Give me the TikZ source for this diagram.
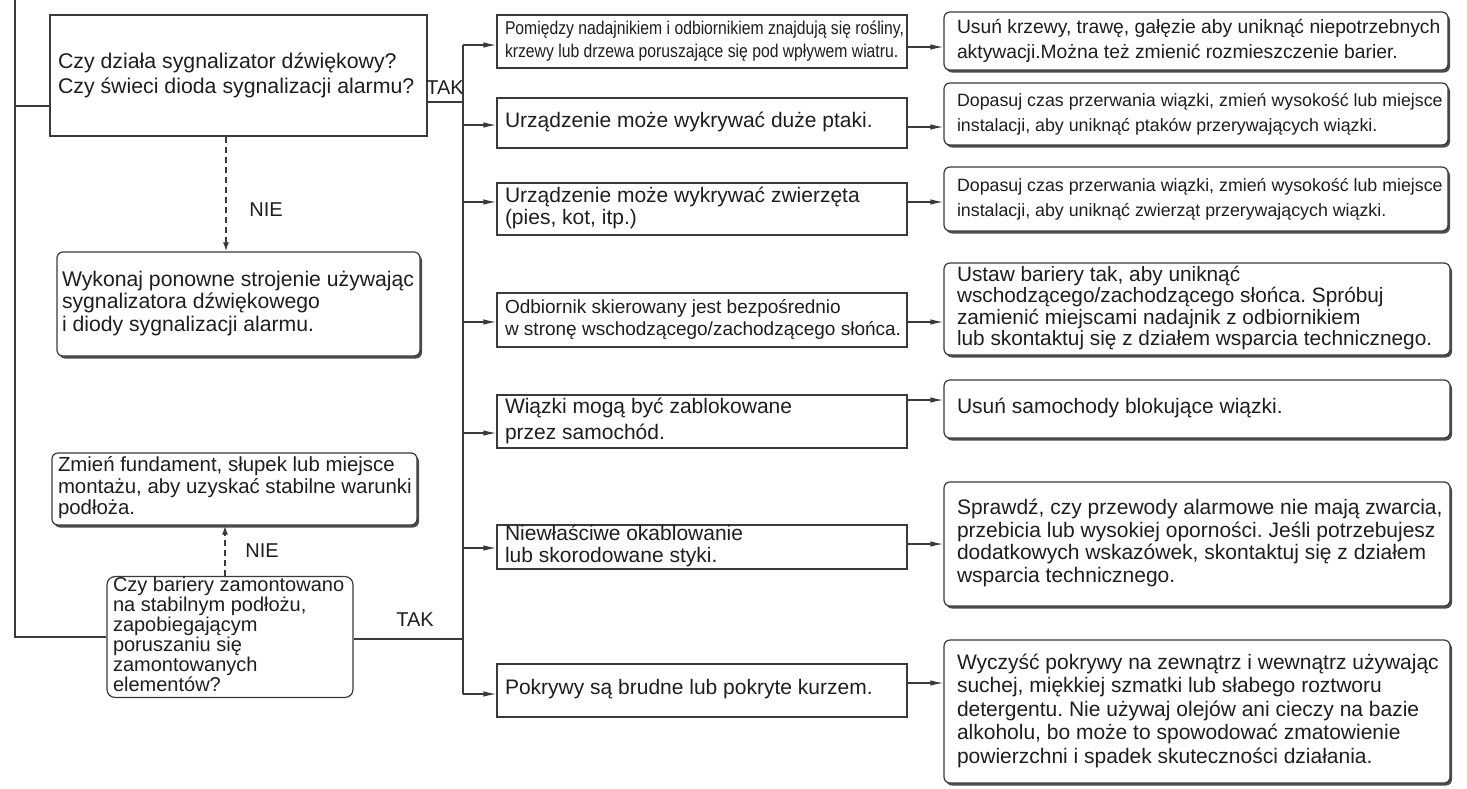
\documentclass[tikz,border=0pt]{standalone}
\usepackage{fontspec}
\setmainfont{Liberation Sans}
\newfontfamily\narrowfont[FakeStretch=0.85]{Liberation Sans}
\usetikzlibrary{arrows.meta,shadows}
\definecolor{lc}{HTML}{3A3A3A}
\definecolor{tc}{HTML}{1E1E1E}
\newcommand{\mytxt}[3]{\makebox[#1][l]{\hspace*{#2}\begin{tabular}{@{}l@{}}#3\end{tabular}}}
\tikzset{
  wire/.style={draw=lc, line width=1.3pt},
  arr/.style={wire, -{Latex[length=13pt,width=5.5pt]}},
  darr/.style={draw=lc, line width=1.6pt, dash pattern=on 6pt off 4pt, -{Latex[length=9pt,width=6pt]}},
  sbox/.style={draw=lc, line width=1.2pt, fill=white, inner xsep=0pt, inner ysep=0pt, text=tc},
  mbox/.style={sbox, drop shadow={shadow xshift=0.6pt, shadow yshift=-1pt, fill=black!60, opacity=1}},
  rbox/.style={sbox, rounded corners=6pt, drop shadow={shadow xshift=2pt, shadow yshift=-2.5pt, fill=black!70, opacity=1}},
  dbox/.style={sbox, rounded corners=8pt},
  fs/.style 2 args={font=\fontsize{#1}{#2}\selectfont},
  lbl/.style={text=tc, font=\fontsize{20}{22}\selectfont, inner sep=0pt},
}
\begin{document}
\frenchspacing
\begin{tikzpicture}[x=1pt,y=-1pt]
\useasboundingbox[fill=white] (0,0) rectangle (1467,788);

% left column
\node[sbox, minimum height=121pt, fs={21.3}{25}] (q1) at (238.5,75.5)
  {\mytxt{377pt}{8pt}{Czy działa sygnalizator dźwiękowy?\\Czy świeci dioda sygnalizacji alarmu?}};
\node[rbox, minimum height=104pt, fs={21.2}{22.5}] (a2) at (238.5,304)
  {\mytxt{363pt}{5pt}{Wykonaj ponowne strojenie używając\\sygnalizatora dźwiękowego\\i diody sygnalizacji alarmu.}};
\node[rbox, minimum height=72pt, fs={20.4}{21.3}] (a3) at (234.5,489)
  {\mytxt{365pt}{6pt}{Zmień fundament, słupek lub miejsce\\montażu, aby uzyskać stabilne warunki\\podłoża.}};
\node[dbox, minimum height=118pt, fs={20}{18.7}] (d2) at (230,637)
  {\mytxt{246pt}{6pt}{Czy bariery zamontowano\\na stabilnym podłożu,\\zapobiegającym\\poruszaniu się\\zamontowanych\\elementów?}};

% middle column
\node[mbox, minimum height=53pt, font=\narrowfont\fontsize{18.5}{23}\selectfont] (m1) at (702,41.5)
  {\mytxt{410pt}{8pt}{Pomiędzy nadajnikiem i odbiornikiem znajdują się rośliny,\\krzewy lub drzewa poruszające się pod wpływem wiatru.}};
\node[mbox, minimum height=50pt, fs={21}{22}] (m2) at (702,123)
  {\mytxt{410pt}{8pt}{Urządzenie może wykrywać duże ptaki.}};
\node[mbox, minimum height=52pt, fs={21}{22}] (m3) at (702,209)
  {\mytxt{410pt}{8pt}{Urządzenie może wykrywać zwierzęta\\(pies, kot, itp.)}};
\node[mbox, minimum height=54pt, fs={19}{22}] (m4) at (702,320)
  {\mytxt{410pt}{8pt}{Odbiornik skierowany jest bezpośrednio\\w stronę wschodzącego/zachodzącego słońca.}};
\node[mbox, minimum height=53pt, fs={21}{26}] (m5) at (702,421.5)
  {\mytxt{410pt}{8pt}{Wiązki mogą być zablokowane\\przez samochód.}};
\node[mbox, minimum height=44pt, fs={21}{22}] (m6) at (702,547)
  {\mytxt{410pt}{8pt}{Niewłaściwe okablowanie\\lub skorodowane styki.}};
\node[mbox, minimum height=53pt, fs={21}{22}] (m7) at (702,690.5)
  {\mytxt{410pt}{8pt}{Pokrywy są brudne lub pokryte kurzem.}};

% right column
\node[rbox, minimum height=58pt, fs={19.3}{25}] (r1) at (1196,41)
  {\mytxt{504pt}{13pt}{Usuń krzewy, trawę, gałęzie aby uniknąć niepotrzebnych\\aktywacji.Można też zmienić rozmieszczenie barier.}};
\node[rbox, minimum height=62pt, fs={17.8}{25}] (r2) at (1196,114)
  {\mytxt{504pt}{13pt}{Dopasuj czas przerwania wiązki, zmień wysokość lub miejsce\\instalacji, aby uniknąć ptaków przerywających wiązki.}};
\node[rbox, minimum height=64pt, fs={17.8}{25}] (r3) at (1196,199)
  {\mytxt{504pt}{13pt}{Dopasuj czas przerwania wiązki, zmień wysokość lub miejsce\\instalacji, aby uniknąć zwierząt przerywających wiązki.}};
\node[rbox, minimum height=92pt, fs={20.8}{20.5}] (r4) at (1197,309)
  {\mytxt{506pt}{13pt}{Ustaw bariery tak, aby uniknąć\\wschodzącego/zachodzącego słońca. Spróbuj\\zamienić miejscami nadajnik z odbiornikiem\\lub skontaktuj się z działem wsparcia technicznego.}};
\node[rbox, minimum height=58pt, fs={21}{22}] (r5) at (1197,409)
  {\mytxt{506pt}{13pt}{Usuń samochody blokujące wiązki.}};
\node[rbox, minimum height=124pt, fs={21}{22.5}] (r6) at (1197,544)
  {\mytxt{506pt}{13pt}{Sprawdź, czy przewody alarmowe nie mają zwarcia,\\przebicia lub wysokiej oporności. Jeśli potrzebujesz\\dodatkowych wskazówek, skontaktuj się z działem\\wsparcia technicznego.}};
\node[rbox, minimum height=143pt, fs={21}{23.5}] (r7) at (1197,711.5)
  {\mytxt{506pt}{13pt}{Wyczyść pokrywy na zewnątrz i wewnątrz używając\\suchej, miękkiej szmatki lub słabego roztworu\\detergentu. Nie używaj olejów ani cieczy na bazie\\alkoholu, bo może to spowodować zmatowienie\\powierzchni i spadek skuteczności działania.}};

% labels
\node[lbl] (tak1) at (445,88) {TAK};
\node[lbl] (tak2) at (415,620) {TAK};
\node[lbl] (nie1) at (266,210) {NIE};
\node[lbl] (nie2) at (262,551) {NIE};

% left bus
\coordinate (l0) at (15,0);
\coordinate (l1) at (15,106);
\draw[wire] (l0) |- (d2.west);
\draw[wire] (l1) -- (l1 -| q1.west);

% TAK bus
\coordinate (t1) at (463,102);
\coordinate (t2) at (463,639);
\coordinate (b1) at (463,45);
\coordinate (b2) at (463,125);
\coordinate (b3) at (463,202);
\coordinate (b4) at (463,322);
\coordinate (b5) at (463,433);
\coordinate (b6) at (463,548);
\coordinate (b7) at (463,694);
\draw[wire] (t1 -| q1.east) -- (t1);
\draw[wire] (t2 -| d2.east) -- (t2);
\draw[wire] (b1) -- (b7);
\draw[arr] (b1) -- (b1 -| m1.west);
\draw[arr] (b2) -- (b2 -| m2.west);
\draw[arr] (b3) -- (b3 -| m3.west);
\draw[arr] (b4) -- (b4 -| m4.west);
\draw[arr] (b5) -- (b5 -| m5.west);
\draw[arr] (b6) -- (b6 -| m6.west);
\draw[arr] (b7) -- (b7 -| m7.west);

% middle to right
\coordinate (c1) at (907,47);
\coordinate (c2) at (907,127);
\coordinate (c3) at (907,202);
\coordinate (c4) at (907,322);
\coordinate (c5) at (907,400);
\coordinate (c6) at (907,544);
\coordinate (c7) at (907,683);
\draw[arr] (c1 -| m1.east) -- (c1 -| r1.west);
\draw[arr] (c2 -| m2.east) -- (c2 -| r2.west);
\draw[arr] (c3 -| m3.east) -- (c3 -| r3.west);
\draw[arr] (c4 -| m4.east) -- (c4 -| r4.west);
\draw[arr] (c5 -| m5.east) -- (c5 -| r5.west);
\draw[arr] (c6 -| m6.east) -- (c6 -| r6.west);
\draw[arr] (c7 -| m7.east) -- (c7 -| r7.west);

% NIE dashed arrows
\draw[darr] ([xshift=-12.5pt]q1.south) -- ([xshift=-12.5pt]q1.south |- a2.north);
\draw[darr] ([xshift=-5pt]d2.north) -- ([xshift=-5pt]d2.north |- a3.south);
\end{tikzpicture}
\end{document}
